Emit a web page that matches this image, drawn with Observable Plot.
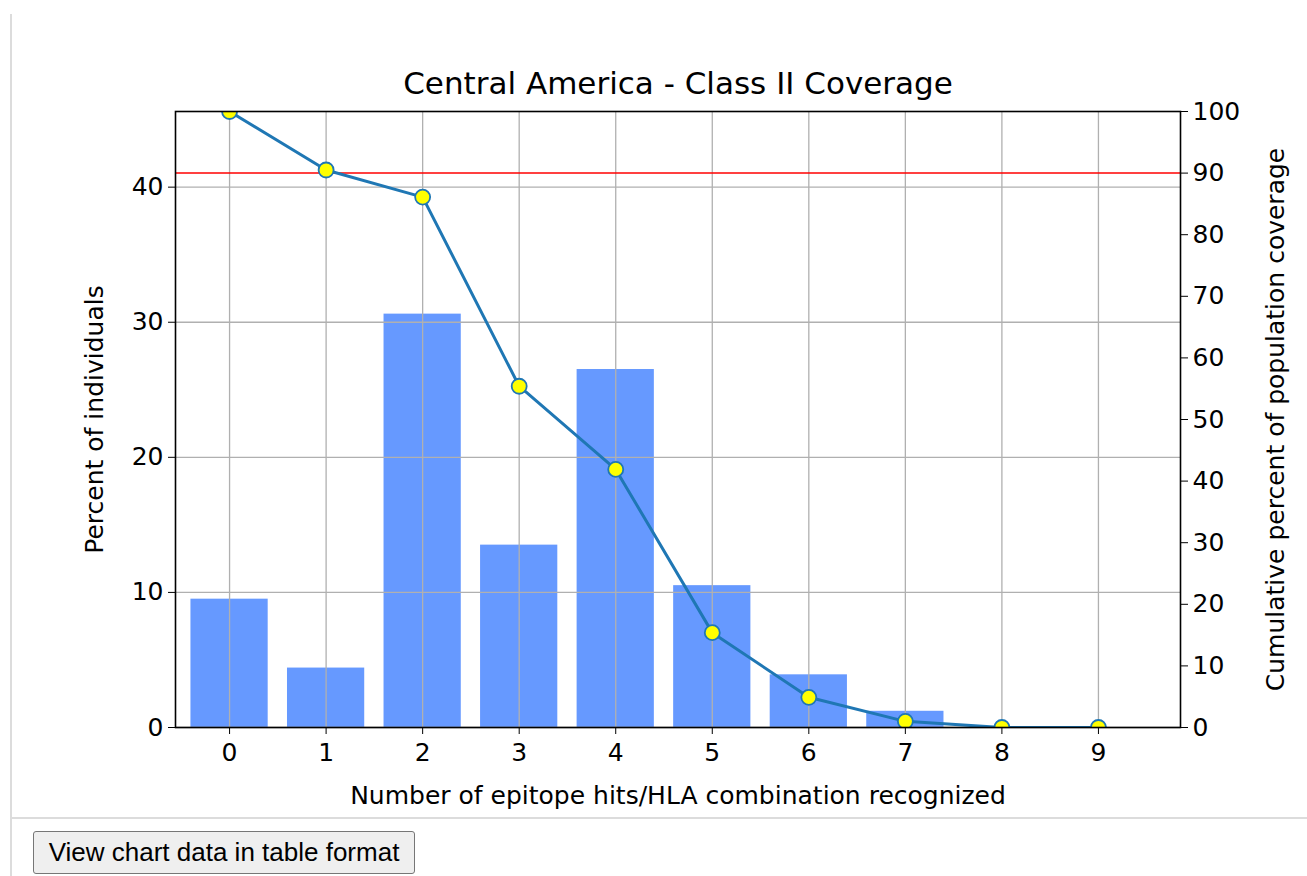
<!DOCTYPE html>
<html>
<head>
<meta charset="utf-8">
<script src="https://cdn.jsdelivr.net/npm/d3@7"></script>
<script src="https://cdn.jsdelivr.net/npm/@observablehq/plot@0.6"></script>
<style>
  html, body { margin: 0; padding: 0; background: #fff; }
  body { width: 1307px; height: 876px; position: relative; overflow: hidden; }
  #vline { position: absolute; left: 10px; top: 14px; width: 2px; height: 862px; background: #dcdcdc; }
  #hline { position: absolute; left: 10px; top: 817px; width: 1297px; height: 2px; background: #dcdcdc; }
  #chart { position: absolute; left: 0; top: 0; }
  #btn { position: absolute; left: 33px; top: 831px; width: 382px; height: 43px;
         font-family: "Liberation Sans", Arial, sans-serif; font-size: 26px; color: #000;
         background: #efefef; border: 1px solid #767676; border-radius: 3px; padding: 0; }
</style>
</head>
<body>
<div id="vline"></div>
<div id="hline"></div>
<div id="chart"></div>
<button id="btn">View chart data in table format</button>
<script>
const title = "Central America - Class II Coverage";
const xLabel = "Number of epitope hits/HLA combination recognized";
const yLeftLabel = "Percent of individuals";
const yRightLabel = "Cumulative percent of population coverage";
const hits = [0, 1, 2, 3, 4, 5, 6, 7, 8, 9];
const percentIndividuals = [9.5, 4.4, 30.6, 13.5, 26.5, 10.5, 3.9, 1.2, 0, 0];
const cumulativeCoverage = [100, 90.5, 86.1, 55.4, 41.9, 15.4, 4.9, 1.0, 0, 0];
const threshold = 90;
const leftTicks = [0, 10, 20, 30, 40];
const rightTicks = [0, 10, 20, 30, 40, 50, 60, 70, 80, 90, 100];
const leftMax = 45.6;
const rightMax = 100;
const k = leftMax / rightMax;

const data = hits.map((h, i) => ({h, pct: percentIndividuals[i], cum: cumulativeCoverage[i] * k}));
const barHalf = 0.4;
const fontSize = 25;

const chart = Plot.plot({
  width: 1307,
  height: 816,
  marginLeft: 175,
  marginRight: 127,
  marginTop: 111,
  marginBottom: 89,
  style: {fontFamily: "DejaVu Sans", fontSize: fontSize + "px", color: "#000", background: "transparent"},
  x: {domain: [-0.56, 9.85]},
  y: {domain: [0, leftMax]},
  marks: [
    Plot.rectY(data, {x1: d => d.h - barHalf, x2: d => d.h + barHalf, y: "pct", fill: "#6699ff"}),
    Plot.gridX(hits, {stroke: "#b0b0b0", strokeOpacity: 1, strokeWidth: 1.3}),
    Plot.gridY(leftTicks, {stroke: "#b0b0b0", strokeOpacity: 1, strokeWidth: 1.3}),
    Plot.ruleY([threshold * k], {stroke: "#ff0000", strokeWidth: 1.5}),
    Plot.line(data, {x: "h", y: "cum", stroke: "#1f77b4", strokeWidth: 3, clip: true}),
    Plot.dot(data, {x: "h", y: "cum", r: 7.5, fill: "#ffff00", stroke: "#1f77b4", strokeWidth: 1.8, clip: true}),
    Plot.frame({stroke: "#000", strokeWidth: 1.6}),
    Plot.axisX(hits, {anchor: "bottom", tickSize: 7, tickPadding: 9, tickFormat: d => String(d),
      label: xLabel, labelAnchor: "center", labelArrow: "none", labelOffset: 76, fontSize}),
    Plot.axisY(leftTicks, {anchor: "left", tickSize: 7, tickPadding: 5, tickFormat: d => String(d),
      label: yLeftLabel, labelAnchor: "center", labelArrow: "none", labelOffset: 90, fontSize}),
    Plot.axisY(rightTicks.map(t => t * k), {anchor: "right", tickSize: 7, tickPadding: 5,
      tickFormat: d => String(Math.round(d / k)),
      label: yRightLabel, labelAnchor: "center", labelArrow: "none", labelOffset: 103, fontSize}),
    Plot.text([title], {frameAnchor: "top", dy: -18, lineAnchor: "bottom", fontSize: 31, fill: "#000"})
  ]
});
document.getElementById("chart").appendChild(chart);
</script>
</body>
</html>
